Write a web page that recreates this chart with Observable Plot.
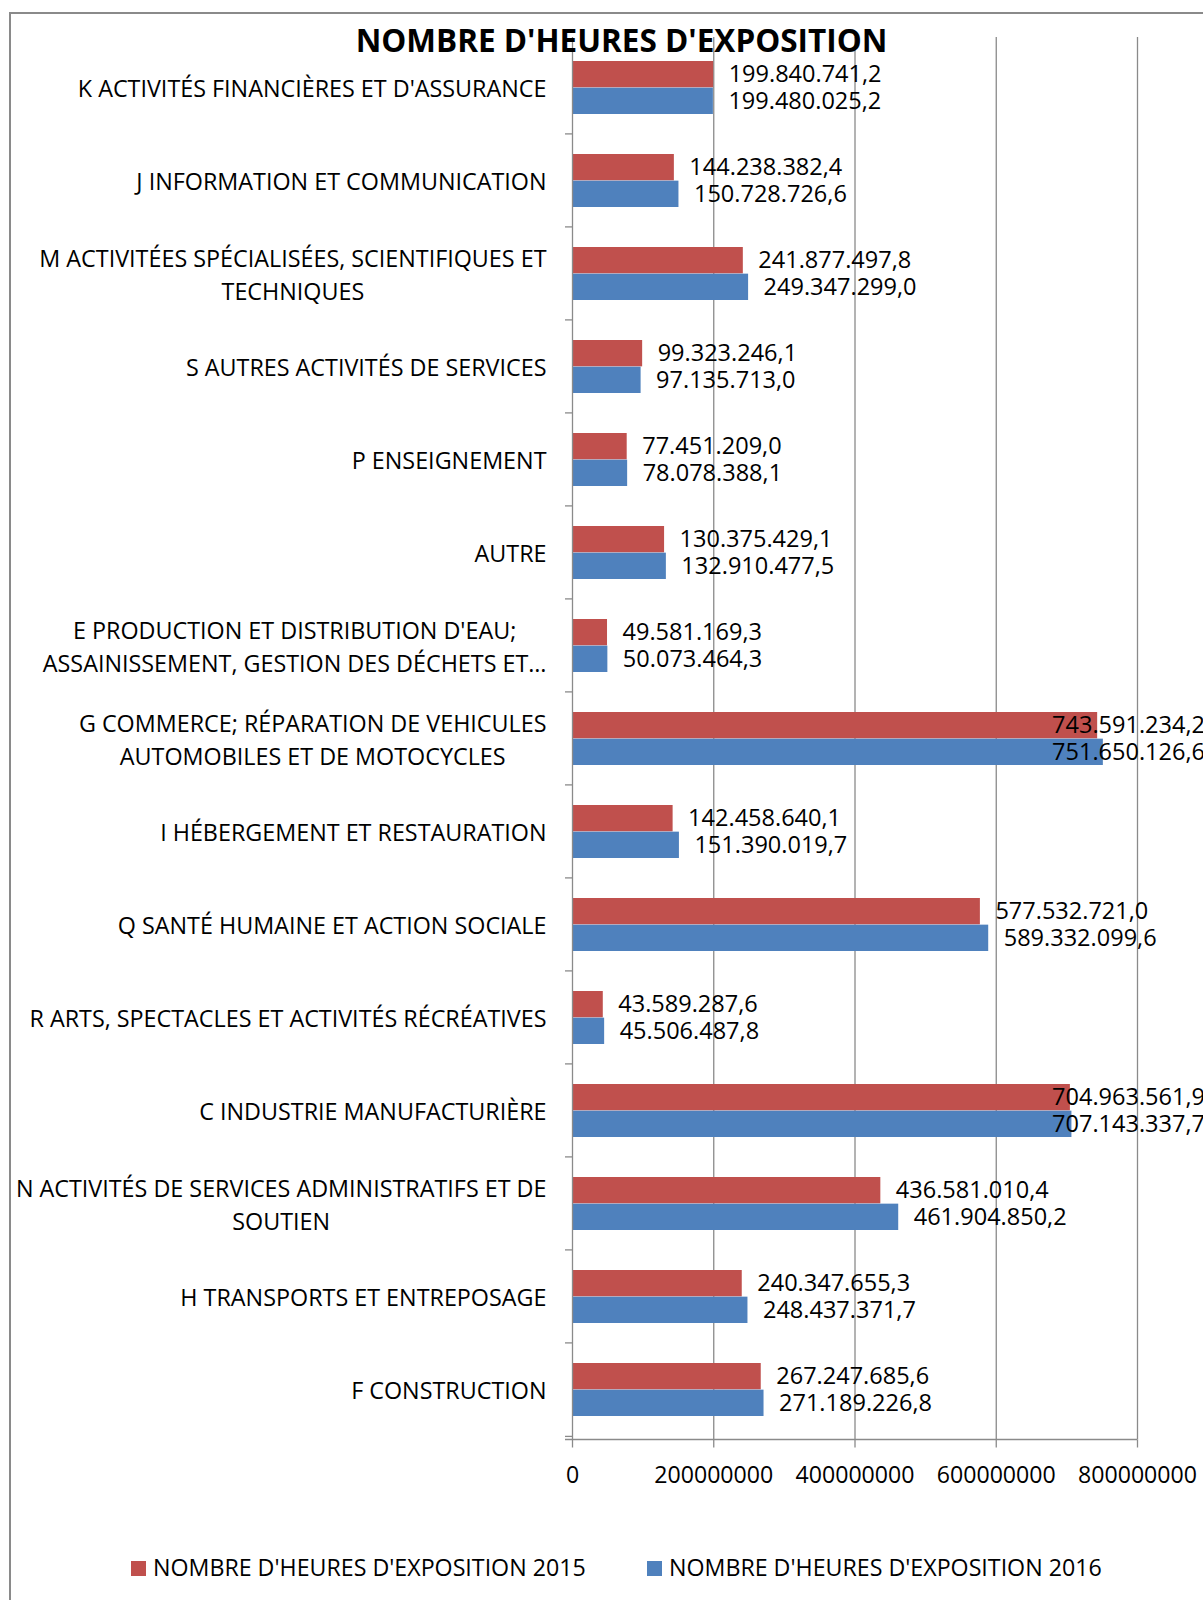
<!DOCTYPE html>
<html>
<head>
<meta charset="utf-8">
<script src="https://cdn.jsdelivr.net/npm/d3@7"></script>
<script src="https://cdn.jsdelivr.net/npm/@observablehq/plot@0.6"></script>
<style>
  html, body { margin: 0; padding: 0; background: #fff; }
  #wrap { position: relative; width: 1203px; height: 1600px; overflow: hidden; font-family: "Open Sans", sans-serif; color: #000; }
  #frame { position: absolute; left: 9px; top: 12px; width: 1400px; height: 1800px; border: 2px solid #8a8a8a; box-sizing: border-box; }
  #chart { position: absolute; left: 0; top: 0; }
  #title { position: absolute; top: 0; left: 0; white-space: nowrap; font-weight: 700; line-height: 1; }
  .leg { position: absolute; white-space: nowrap; line-height: 1; }
  .sw { position: absolute; width: 15px; height: 15px; }
</style>
</head>
<body>
<div id="wrap">
  <div id="frame"></div>
  <div id="chart"></div>
  <div id="title"></div>
  <div id="legend"></div>
</div>
<script>
// ---------------- data ----------------
const chartTitle = "NOMBRE D'HEURES D'EXPOSITION";
const categories = [
  "K ACTIVITÉS FINANCIÈRES ET D'ASSURANCE",
  "J INFORMATION ET COMMUNICATION",
  "M ACTIVITÉES SPÉCIALISÉES, SCIENTIFIQUES ET\nTECHNIQUES",
  "S AUTRES ACTIVITÉS DE SERVICES",
  "P ENSEIGNEMENT",
  "AUTRE",
  "E PRODUCTION ET DISTRIBUTION D'EAU;\nASSAINISSEMENT, GESTION DES DÉCHETS ET…",
  "G COMMERCE; RÉPARATION DE VEHICULES\nAUTOMOBILES ET DE MOTOCYCLES",
  "I HÉBERGEMENT ET RESTAURATION",
  "Q SANTÉ HUMAINE ET ACTION SOCIALE",
  "R ARTS, SPECTACLES ET ACTIVITÉS RÉCRÉATIVES",
  "C INDUSTRIE MANUFACTURIÈRE",
  "N ACTIVITÉS DE SERVICES ADMINISTRATIFS ET DE\nSOUTIEN",
  "H TRANSPORTS ET ENTREPOSAGE",
  "F CONSTRUCTION"
];
const hours2015 = [
  199840741.2, 144238382.4, 241877497.8, 99323246.1, 77451209.0,
  130375429.1, 49581169.3, 743591234.2, 142458640.1, 577532721.0,
  43589287.6, 704963561.9, 436581010.4, 240347655.3, 267247685.6
];
const hours2016 = [
  199480025.2, 150728726.6, 249347299.0, 97135713.0, 78078388.1,
  132910477.5, 50073464.3, 751650126.6, 151390019.7, 589332099.6,
  45506487.8, 707143337.7, 461904850.2, 248437371.7, 271189226.8
];
const xTicks = [0, 200000000, 400000000, 600000000, 800000000];
const seriesKeys = ["2015", "2016"];
const seriesNames = ["NOMBRE D'HEURES D'EXPOSITION 2015", "NOMBRE D'HEURES D'EXPOSITION 2016"];
const seriesColors = ["#C0504D", "#4F81BD"];

// ---------------- font sizing helpers ----------------
const FONT = '"Open Sans", sans-serif';
const cv = document.createElement("canvas").getContext("2d");
function fitSize(text, target, weight) {
  cv.font = `${weight || 400} 20px ${FONT}`;
  return 20 * target / cv.measureText(text).width;
}
const catSize = fitSize("K ACTIVITÉS FINANCIÈRES ET D'ASSURANCE", 469);
const valSize = fitSize("199.840.741,2", 153);
const tickSize = fitSize("200000000", 119);
const legSize = fitSize(seriesNames[0], 433);
const titleSize = fitSize(chartTitle, 532, 700);

// ---------------- layout ----------------
const W = 1203, H = 1500;
const mTop = 37, mBottom = 60.5, mLeft = 572, mRight = 66;
const pInner = 0.43, pOuter = pInner / 2;
const step = (H - mTop - mBottom) / categories.length;
const bw = step * (1 - pInner);
const gridColor = "#8a8a8a";

const rows = categories.flatMap((c, i) => [
  {cat: c, year: seriesKeys[0], v: hours2015[i]},
  {cat: c, year: seriesKeys[1], v: hours2016[i]}
]);
const r15 = rows.filter(d => d.year === seriesKeys[0]);
const r16 = rows.filter(d => d.year === seriesKeys[1]);
const fmt = d3.formatLocale({decimal: ",", thousands: ".", grouping: [3]}).format(",.1f");

function frameTicks(index, scales) {
  const y = scales.y, x = scales.x;
  const g = d3.create("svg:g").attr("stroke", gridColor).attr("stroke-width", 1.3);
  const gap = step - bw;
  const bounds = categories.map(c => y(c) - gap / 2);
  bounds.push(y(categories[categories.length - 1]) + bw + gap / 2);
  const x0 = x(0);
  for (const b of bounds) g.append("line").attr("x1", x0 - 7).attr("x2", x0).attr("y1", b).attr("y2", b);
  g.append("line").attr("x1", x0 - 7).attr("x2", x(xTicks[xTicks.length - 1]))
    .attr("y1", H - mBottom).attr("y2", H - mBottom);
  return g.node();
}

const chart = Plot.plot({
  width: W, height: H,
  marginTop: mTop, marginBottom: mBottom, marginLeft: mLeft, marginRight: mRight,
  style: {fontFamily: FONT, color: "#000", background: "transparent", overflow: "visible"},
  x: {domain: [0, 800000000], axis: null, label: null},
  y: {domain: categories, paddingInner: pInner, paddingOuter: pOuter, axis: null, label: null},
  marks: [
    Plot.ruleX(xTicks.slice(1), {stroke: gridColor, strokeWidth: 1.3}),
    Plot.barX(r15, {x: "v", y: "cat", fill: seriesColors[0], insetBottom: bw / 2}),
    Plot.barX(r16, {x: "v", y: "cat", fill: seriesColors[1], insetTop: bw / 2}),
    Plot.ruleX([0], {stroke: gridColor, strokeWidth: 1.3}),
    frameTicks,
    Plot.axisX({ticks: xTicks, tickFormat: d => String(d), tickSize: 8, tickPadding: 19, label: null,
      stroke: gridColor, strokeWidth: 1.3, fill: "#000", fontSize: tickSize, anchor: "bottom"}),
    Plot.text(categories, {y: d => d, frameAnchor: "left", dx: -26, dy: -1, textAnchor: "end",
      lineHeight: 32.6 / catSize, fontSize: catSize, fill: "#000"}),
    Plot.text(r15, {x: "v", y: "cat", text: d => fmt(d.v), dx: 15, dy: -bw / 4, textAnchor: "start",
      fontSize: valSize, fill: "#000"}),
    Plot.text(r16, {x: "v", y: "cat", text: d => fmt(d.v), dx: 15, dy: bw / 4, textAnchor: "start",
      fontSize: valSize, fill: "#000"})
  ]
});
document.getElementById("chart").appendChild(chart);

// post-process texts
const catSet = new Set(categories.map(c => c.replace("\n", "")));
const valRe = /^\d{1,3}(\.\d{3})*,\d$/;
const svgRect = chart.getBoundingClientRect();
const limit = 1205;
chart.querySelectorAll("text").forEach(t => {
  const s = t.textContent;
  if (catSet.has(s)) {
    // multi-line category labels: lines centred on each other, block right-aligned
    const spans = t.querySelectorAll("tspan");
    if (spans.length > 1) {
      let maxW = 0;
      spans.forEach(sp => { maxW = Math.max(maxW, sp.getComputedTextLength()); });
      t.setAttribute("text-anchor", "middle");
      t.style.textAnchor = "middle";
      spans.forEach(sp => sp.setAttribute("x", -maxW / 2));
    }
  } else if (valRe.test(s)) {
    // keep value labels inside the chart area, as in the original
    const r = t.getBoundingClientRect();
    const right = r.right - svgRect.left;
    if (right > limit) {
      const old = t.getAttribute("transform") || "";
      t.setAttribute("transform", `translate(${-(right - limit)},0) ` + old);
    }
  }
});

// title
const title = document.getElementById("title");
title.textContent = chartTitle;
title.style.fontSize = titleSize + "px";
const tw = title.getBoundingClientRect().width;
title.style.left = (621.5 - tw / 2) + "px";
title.style.top = (51.7 - titleSize * 0.89) + "px";

// legend
const legend = document.getElementById("legend");
const legPos = [{sw: 131, tx: 153}, {sw: 647, tx: 669}];
seriesNames.forEach((name, i) => {
  const sw = document.createElement("div");
  sw.className = "sw";
  sw.style.left = legPos[i].sw + "px";
  sw.style.top = "1561px";
  sw.style.background = seriesColors[i];
  legend.appendChild(sw);
  const tx = document.createElement("div");
  tx.className = "leg";
  tx.textContent = name;
  tx.style.fontSize = legSize + "px";
  tx.style.left = legPos[i].tx + "px";
  tx.style.top = (1568 - legSize * 0.5) + "px";
  legend.appendChild(tx);
});
</script>
</body>
</html>
